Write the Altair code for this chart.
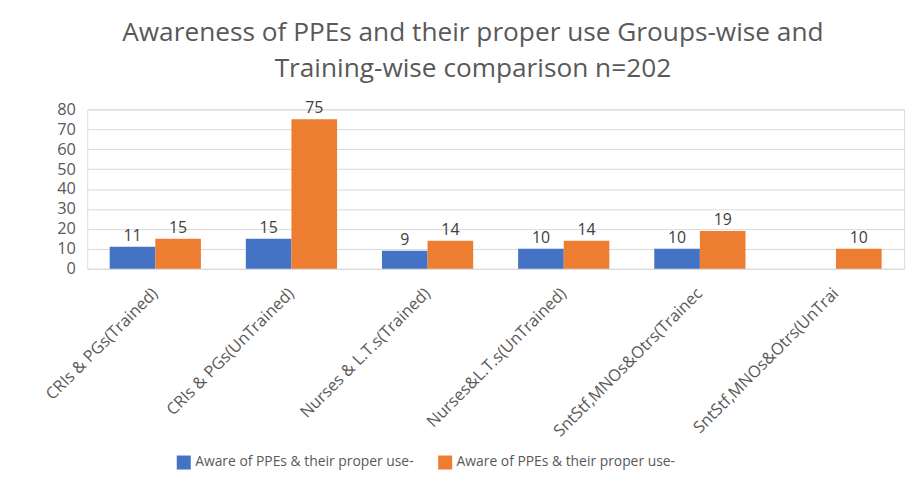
import altair as alt
import pandas as pd

categories = [
    "CRIs & PGs(Trained)",
    "CRIs & PGs(UnTrained)",
    "Nurses & L.T.s(Trained)",
    "Nurses&L.T.s(UnTrained)",
    "SntStf,MNOs&Otrs(Trainec",
    "SntStf,MNOs&Otrs(UnTrai",
]
series_ids = ["s1", "s2"]
legend_labels = ["Aware of PPEs & their proper use-", "Aware of PPEs & their proper use-"]
blue_values = [11, 15, 9, 10, 10, None]
orange_values = [15, 75, 14, 14, 19, 10]
colors = ["#4472C4", "#ED7D31"]
y_ticks = [0, 10, 20, 30, 40, 50, 60, 70, 80]
title_lines = [
    "Awareness of PPEs and their proper use Groups-wise and",
    "Training-wise comparison n=202",
]

rows = []
for sid, vals in zip(series_ids, [blue_values, orange_values]):
    for c, v in zip(categories, vals):
        rows.append({"category": c, "series": sid, "value": v})
df = pd.DataFrame(rows)

FONT = "Open Sans"
label_expr = "datum.value == 's1' ? '%s' : '%s'" % (legend_labels[0], legend_labels[1])

x_enc = alt.X(
    "category:N",
    sort=categories,
    title=None,
    scale=alt.Scale(paddingInner=0.33, paddingOuter=0.165),
    axis=alt.Axis(
        labelAngle=-45,
        labelAlign="right",
        labelBaseline="middle",
        labelFont=FONT,
        labelFontSize=16.5,
        labelColor="#595959",
        domain=False,
        ticks=False,
        grid=False,
        labelPadding=22,
        labelLimit=400,
        labelOverlap=False,
    ),
)
y_enc = alt.Y(
    "value:Q",
    title=None,
    scale=alt.Scale(domain=[0, 80], nice=False),
    axis=alt.Axis(
        values=y_ticks,
        labelFont=FONT,
        labelFontSize=16.5,
        labelColor="#595959",
        domain=False,
        ticks=False,
        gridColor="#D9D9D9",
        gridWidth=1,
        labelPadding=12,
        labelOverlap=False,
        labelBound=False,
    ),
)
xoff = alt.XOffset("series:N", sort=series_ids, scale=alt.Scale(paddingInner=0, paddingOuter=0))

base = (
    alt.Chart(df)
    .transform_filter("isValid(datum.value)")
    .encode(x=x_enc, xOffset=xoff, y=y_enc)
)

bars = base.mark_bar().encode(
    color=alt.Color(
        "series:N",
        sort=series_ids,
        scale=alt.Scale(domain=series_ids, range=colors),
        legend=alt.Legend(
            title=None,
            orient="none",
            legendX=90,
            legendY=349,
            direction="horizontal",
            symbolType="square",
            symbolSize=200,
            symbolStrokeWidth=0,
            labelFont=FONT,
            labelFontSize=14,
            labelColor="#595959",
            labelLimit=400,
            columnPadding=24,
            labelExpr=label_expr,
        ),
    ),
)

texts = base.mark_text(dy=-11, font=FONT, fontSize=16, color="#404040").encode(
    text=alt.Text("value:Q", format="d"),
)

chart = (
    alt.layer(bars, texts)
    .properties(
        width=825,
        height=161,
        padding={"left": 80, "top": 100, "right": 10, "bottom": 210},
        autosize=alt.AutoSizeParams(type="none"),
        title=alt.TitleParams(
            title_lines,
            font=FONT,
            fontSize=26.5,
            fontWeight="normal",
            color="#595959",
            anchor="middle",
            offset=18,
            lineHeight=37,
            dx=-23,
        ),
    )
    .configure_view(stroke="transparent", strokeWidth=0)
    .configure(background="white")
)

chart.save("out.html", embed_options={"renderer": "svg", "actions": False})
